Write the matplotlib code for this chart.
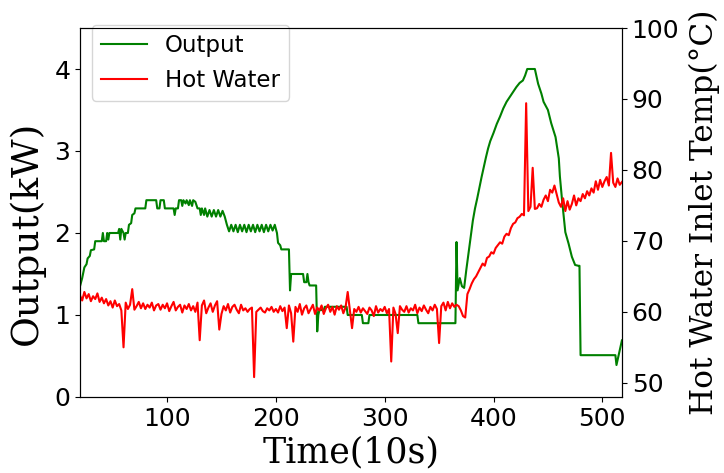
import numpy as np
import matplotlib
matplotlib.use("Agg")
import matplotlib.pyplot as plt

# ---- data ----
out_t = [20, 22, 24, 26, 27, 29, 30, 33, 34, 40, 41, 42, 44, 45, 46, 47, 55, 56, 57, 58, 60, 61, 62, 64,
         65, 67, 68, 70, 71, 80, 81, 90, 91, 93, 94, 97, 98, 106, 107, 108, 110, 111, 113, 114, 115, 117,
         118, 120, 121, 123, 124, 126, 128, 130, 131, 132, 134, 135, 137, 139, 141, 143, 145, 147, 149,
         151, 153, 155, 157, 159, 161, 163, 165, 167, 169, 171, 173, 175, 177, 179, 181, 183, 185, 187,
         189, 191, 193, 195, 197, 199, 201, 202, 204, 205, 212, 213, 214, 225, 226, 228, 229, 230, 231,
         237, 238, 239, 240, 244, 245, 265, 266, 279, 280, 285, 286, 330, 331, 365, 366, 367, 369, 371,
         373, 375, 377, 379, 381, 383, 385, 387, 389, 391, 393, 395, 397, 400, 403, 406, 409, 412, 415,
         418, 421, 424, 427, 429, 431, 438, 441, 444, 446, 450, 453, 457, 460, 461, 463, 466, 469, 472,
         475, 478, 479, 480, 512, 513, 518]
out_v = [1.35, 1.45, 1.58, 1.62, 1.69, 1.72, 1.79, 1.80, 1.90, 1.90, 2.00, 1.90, 1.90, 2.00, 1.92, 2.00,
         2.00, 2.05, 1.92, 2.05, 2.00, 1.92, 2.00, 2.00,
         2.10, 2.12, 2.22, 2.24, 2.30, 2.30, 2.40, 2.40, 2.30, 2.30, 2.40, 2.40, 2.30, 2.30, 2.22, 2.30,
         2.30, 2.40, 2.40, 2.33, 2.40, 2.36, 2.40, 2.34, 2.40, 2.33, 2.40, 2.38, 2.30, 2.30, 2.22, 2.30,
         2.22, 2.30, 2.20, 2.28, 2.20, 2.28, 2.20, 2.28, 2.20, 2.27, 2.20, 2.10, 2.02, 2.10, 2.02, 2.10,
         2.01, 2.10, 2.02, 2.10, 2.01, 2.10, 2.02, 2.10, 2.01, 2.10, 2.02, 2.10, 2.01, 2.10, 2.02, 2.10,
         2.03, 2.10, 2.00, 1.88, 1.85, 1.80, 1.80, 1.30, 1.50, 1.50, 1.40, 1.40, 1.50, 1.40, 1.36,
         1.36, 0.80, 1.00, 1.06, 1.06, 1.10, 1.10, 1.00, 1.00, 0.90, 0.90, 1.00, 1.00, 0.90, 0.90, 1.89,
         1.30, 1.45, 1.35, 1.33, 1.55, 1.75, 1.95, 2.15, 2.30, 2.42, 2.55, 2.68, 2.80, 2.92, 3.03, 3.12,
         3.22, 3.33, 3.42, 3.52, 3.60, 3.66, 3.72, 3.78, 3.83, 3.86, 3.92, 4.00, 4.00, 3.82, 3.70, 3.60,
         3.50, 3.34, 3.17, 2.91, 2.69, 2.40, 2.01, 1.87, 1.71, 1.61, 1.60, 1.60, 0.51, 0.51, 0.39, 0.69]

hw_t = list(range(20, 520, 2))
hw_v = [62.3, 61.6, 62.8, 61.9, 62.5, 61.5, 62.2, 61.8, 62.6, 61.4,
        62.0, 61.2, 61.8, 60.9, 61.5, 60.6, 61.6, 60.8, 61.1, 60.2,
        55.0, 61.3, 60.4, 61.0, 63.2, 60.3, 60.8, 61.4, 60.5, 61.2,
        60.4, 61.0, 60.6, 61.3, 60.2, 60.9, 61.1, 60.3, 61.0, 60.5,
        61.2, 60.1, 60.8, 61.4, 60.2, 60.7, 61.0, 59.9, 60.9, 60.4,
        61.1, 60.2, 60.8, 60.0, 61.3, 56.0, 60.9, 61.6, 59.8, 60.6,
        61.2, 60.0, 60.9, 61.5, 57.5, 59.7, 60.8, 60.2, 61.1, 59.9,
        60.7, 61.0, 60.3, 59.8, 61.0, 60.2, 60.5, 60.0, 60.4, 60.6,
        50.8, 60.0, 60.3, 60.6, 60.1, 59.9, 60.5, 60.2, 60.7, 60.0,
        60.4, 59.9, 60.8, 60.1, 60.6, 57.7, 60.9, 59.8, 55.8, 60.7,
        60.0, 61.1, 59.6, 60.5, 60.9, 59.8, 60.4, 61.0, 59.7, 60.6,
        60.2, 60.9, 59.7, 60.5, 61.0, 60.0, 60.7, 59.6, 60.8, 60.3,
        60.9, 59.8, 60.6, 62.8, 60.3, 57.7, 60.4, 60.0, 60.7, 59.9,
        60.5, 60.1, 59.7, 60.6, 60.2, 59.4, 60.8, 59.9, 60.4, 60.1,
        60.7, 59.8, 60.4, 53.0, 60.6, 59.7, 57.0, 60.8, 60.3, 60.0,
        60.8, 59.9, 60.5, 60.2, 61.0, 59.8, 60.6, 60.1, 60.9, 60.3,
        59.8, 60.7, 60.2, 61.0, 60.4, 55.6, 60.8, 61.3, 60.2, 61.4,
        60.5, 61.2, 60.7, 61.0, 60.8, 60.2, 59.4, 59.2, 62.5, 63.2,
        64.0, 64.6, 65.0, 65.6, 66.2, 66.8, 66.5, 67.6, 67.8, 68.4,
        68.2, 69.0, 69.4, 69.8, 69.6, 70.6, 71.0, 70.8, 71.8, 72.4,
        72.6, 73.2, 73.4, 73.8, 73.6, 89.4, 74.2, 74.8, 80.3, 74.5,
        74.6, 75.2, 74.8, 75.8, 76.4, 75.6, 77.2, 76.8, 77.8, 76.6,
        75.4, 74.8, 76.0, 74.2, 75.6, 74.4, 75.2, 76.4, 75.0, 76.0,
        75.6, 76.6, 76.0, 77.0, 76.4, 77.4, 76.8, 78.4, 77.2, 78.6,
        77.6, 78.4, 79.0, 77.8, 82.4, 78.2, 77.6, 78.8, 77.9, 78.3]

x_ticks = [100, 200, 300, 400, 500]
y1_ticks = [0, 1, 2, 3, 4]
y2_ticks = [50, 60, 70, 80, 90, 100]

# ---- figure ----
fig = plt.figure(figsize=(7.24, 4.73), dpi=100)
ax1 = fig.add_axes([0.1105, 0.1607, 0.7485, 0.7801])
ax2 = ax1.twinx()

l1, = ax1.plot(out_t, out_v, color="green", lw=1.5, label="Output")
l2, = ax2.plot(hw_t, hw_v, color="red", lw=1.5, label="Hot Water")

ax1.set_xlim(20, 518)
ax1.set_ylim(0, 4.5)
ax2.set_ylim(48, 100)
ax1.set_xticks(x_ticks)
ax1.set_yticks(y1_ticks)
ax2.set_yticks(y2_ticks)

tick_fs = 18
ax1.tick_params(labelsize=tick_fs)
ax2.tick_params(labelsize=tick_fs)

ax1.set_xlabel("Time(10s)", family="DejaVu Serif", size=25)
ax1.set_ylabel("Output(kW)", family="DejaVu Serif", size=27)
ax2.set_ylabel("Hot Water Inlet Temp(\u00b0C)", family="DejaVu Serif", size=22.5)
ax1.xaxis.set_label_coords(0.5, -0.105)
ax1.yaxis.set_label_coords(-0.064, 0.445)
ax2.yaxis.set_label_coords(1.124, 0.5)

ax1.legend(handles=[l1, l2], loc="upper left", bbox_to_anchor=(0.0216, 1.008),
           borderaxespad=0, fontsize=16.5, framealpha=0.8)

fig.savefig("out.png", dpi=100)
